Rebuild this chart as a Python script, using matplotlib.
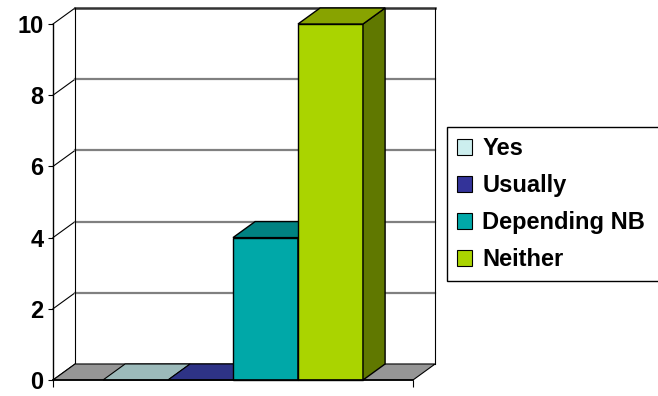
import matplotlib.pyplot as plt
from matplotlib.patches import Polygon, Patch

plt.rcParams['font.family'] = ['Liberation Sans', 'DejaVu Sans']

# survey answers, one bar per answer
categories = ['Yes', 'Usually', 'Depending NB', 'Neither']
counts = [0, 0, 4, 10]
y_ticks = [0, 2, 4, 6, 8, 10]

front_colors = ['#CCEEEE', '#333399', '#00A8A8', '#AAD400']
top_colors = ['#9CBABA', '#2E3386', '#008282', '#88A300']
side_colors = ['#7A9494', '#22266A', '#006A6A', '#607800']

# pseudo-3d depth, in data units
DX = 0.34
DY = 0.45
GAP = 50 / 65

fig = plt.figure(figsize=(6.58, 3.96), dpi=100)
ax = fig.add_axes([53 / 658, 16 / 396, 360 / 658, 356 / 396])

x0 = -0.5 - GAP
x1 = len(categories) - 0.5 + GAP
ax.set_xlim(x0, x1)
ax.set_ylim(0, 10)

# walls and gridlines
for v in y_ticks:
    ax.plot([x0, x0 + DX], [v, v + DY], color='black', lw=0.8, clip_on=False, zorder=1)
    if 0 < v < 10:
        ax.plot([x0 + DX, x1 + DX], [v + DY, v + DY], color='#808080', lw=1.6,
                clip_on=False, zorder=1)
ax.plot([x0 + DX, x1 + DX], [10 + DY, 10 + DY], color='#333333', lw=1.8, clip_on=False, zorder=1)
ax.plot([x0 + DX, x0 + DX], [DY, 10 + DY], color='black', lw=0.8, clip_on=False, zorder=1)
ax.plot([x1 + DX, x1 + DX], [DY, 10 + DY], color='black', lw=0.8, clip_on=False, zorder=1)

# floor
ax.add_patch(Polygon([(x0, 0), (x1, 0), (x1 + DX, DY), (x0 + DX, DY)],
                     closed=True, facecolor='#969696', edgecolor='black', lw=0.8,
                     clip_on=False, zorder=2))

# bars
for i, val in enumerate(counts):
    left, right = i - 0.5, i + 0.5
    if val > 0:
        ax.add_patch(Polygon([(left, 0), (right, 0), (right, val), (left, val)],
                             closed=True, facecolor=front_colors[i], edgecolor='black',
                             lw=1, clip_on=False, zorder=3 + i))
        ax.add_patch(Polygon([(right, 0), (right + DX, DY), (right + DX, val + DY), (right, val)],
                             closed=True, facecolor=side_colors[i], edgecolor='black',
                             lw=1, clip_on=False, zorder=3 + i))
    ax.add_patch(Polygon([(left, val), (right, val), (right + DX, val + DY), (left + DX, val + DY)],
                         closed=True, facecolor=top_colors[i], edgecolor='black',
                         lw=0.8 if val == 0 else 1, clip_on=False, zorder=3 + i))

for side in ['top', 'right']:
    ax.spines[side].set_visible(False)
ax.spines['left'].set_linewidth(1)
ax.spines['bottom'].set_linewidth(1.2)
ax.spines['left'].set_zorder(10)
ax.spines['bottom'].set_zorder(10)

ax.set_yticks(y_ticks)
ax.set_yticklabels([str(t) for t in y_ticks], fontsize=17, fontweight='bold')
ax.tick_params(axis='y', direction='out', length=3.6, width=0.8, pad=3.3)
ax.set_xticks([x0, x1])
ax.set_xticklabels(['', ''])
ax.tick_params(axis='x', direction='out', length=5, width=0.8)
ax.patch.set_visible(False)

handles = [Patch(facecolor=c, edgecolor='black', lw=0.8) for c in front_colors]
fig.legend(handles, categories, loc='upper left',
           bbox_to_anchor=(447 / 658, 1 - 127 / 396 - 0.01, 220 / 658, 0.01), mode='expand',
           frameon=True, fancybox=False, edgecolor='black', framealpha=1,
           prop={'size': 17, 'weight': 'bold'}, handlelength=0.65, handleheight=0.65,
           handletextpad=0.42, labelspacing=0.6, borderpad=0.42, borderaxespad=0)

fig.savefig('out.png', dpi=100)
